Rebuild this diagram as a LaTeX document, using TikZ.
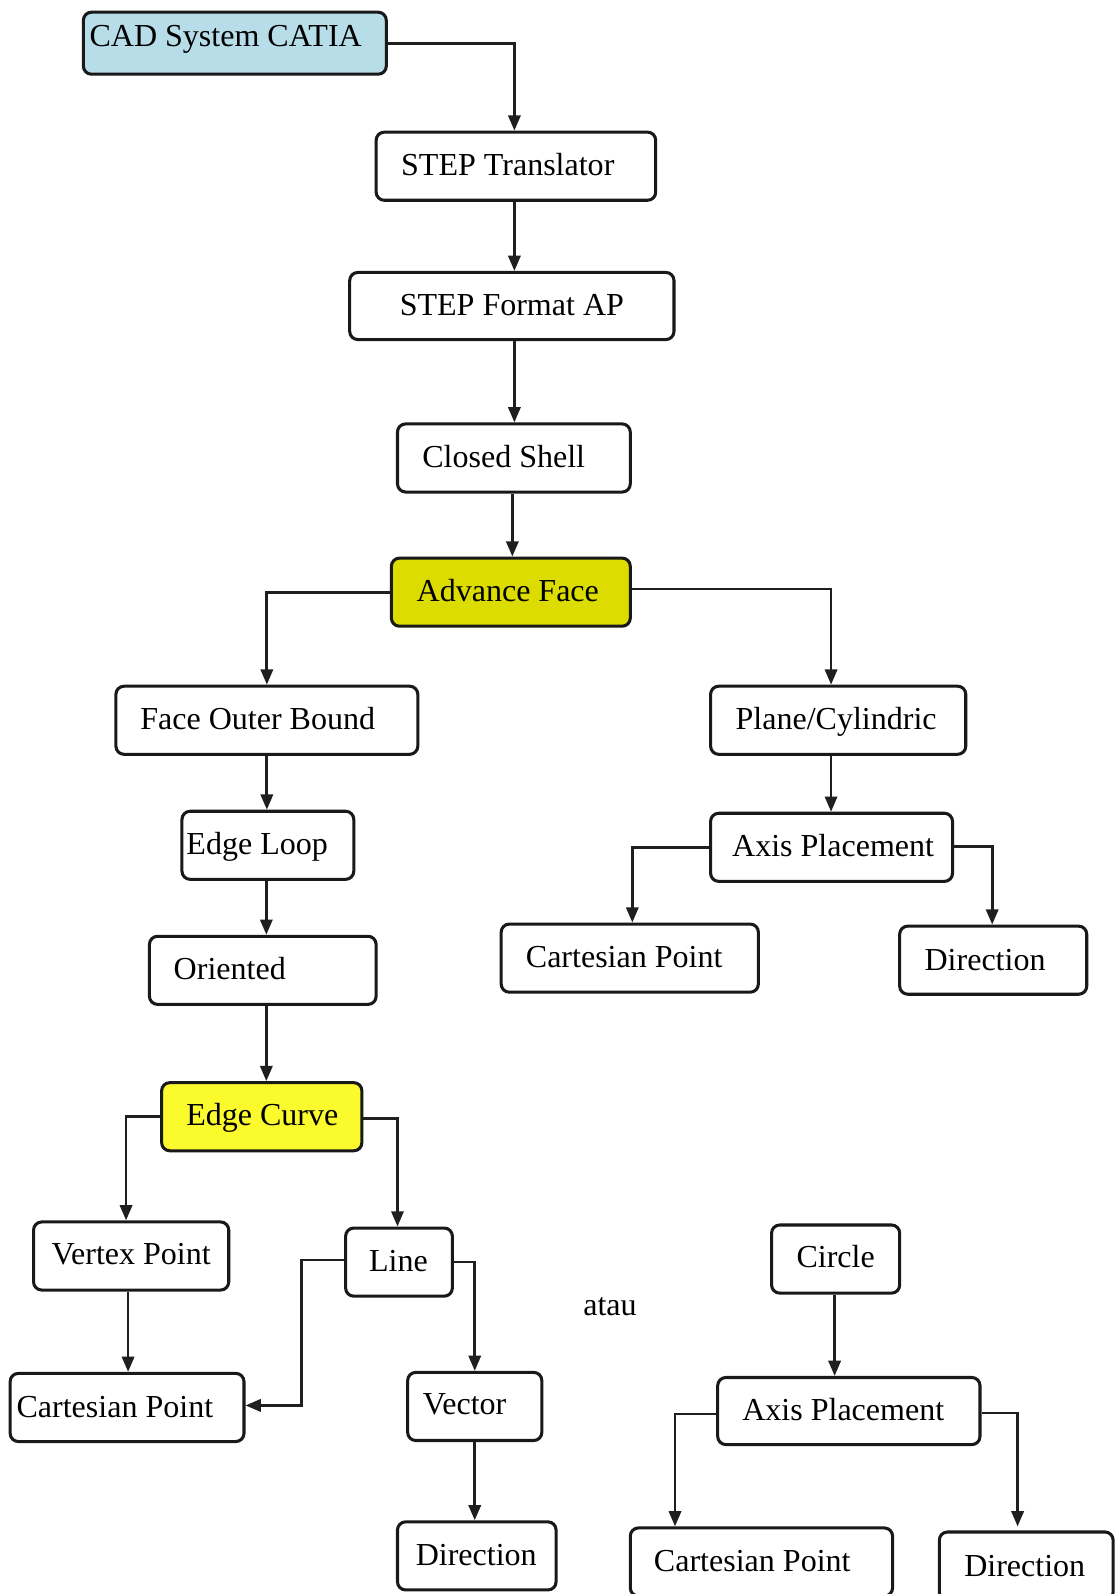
\documentclass[tikz,border=0pt]{standalone}
\usepackage{fontspec}
\setmainfont{Liberation Serif}
\usetikzlibrary{arrows.meta,calc}
\definecolor{cadblue}{RGB}{183,221,232}
\definecolor{advyel}{RGB}{220,220,0}
\definecolor{edgeyel}{RGB}{250,250,45}
\tikzset{
  box/.style={draw=black!90, line width=3pt, rounded corners=8pt, inner sep=0pt, fill=white},
  txt/.style={inner sep=0pt, font=\fontsize{31.5}{36}\selectfont, text height=22pt, text depth=6pt},
  arr/.style={draw=black!88, line width=2.7pt, -{Triangle[length=15pt,width=12pt]}}
}
\begin{document}
\begin{tikzpicture}[x=1pt,y=-1pt]
\useasboundingbox (0,0) rectangle (1097,1568);
\fill[white] (0,0) rectangle (1097,1568);
% boxes
\node[box, fill=cadblue, minimum width=298pt, minimum height=61pt] (cad) at (231,42.5) {};
\node[box, minimum width=275pt, minimum height=67pt] (trans) at (507.5,163.5) {};
\node[box, minimum width=319pt, minimum height=66pt] (fmt) at (503.5,301) {};
\node[box, minimum width=229pt, minimum height=67pt] (shell) at (505.5,450.5) {};
\node[box, fill=advyel, minimum width=235pt, minimum height=67pt] (adv) at (502.5,582.5) {};
\node[box, minimum width=297pt, minimum height=67pt] (fob) at (262.5,708.5) {};
\node[box, minimum width=251pt, minimum height=67pt] (plane) at (824.5,708.5) {};
\node[box, minimum width=169pt, minimum height=67pt] (loop) at (263.5,831.5) {};
\node[box, minimum width=238pt, minimum height=67pt] (axisA) at (818,833.5) {};
\node[box, minimum width=223pt, minimum height=67pt] (orient) at (258.5,954.5) {};
\node[box, minimum width=253pt, minimum height=67pt] (cpA) at (619.5,942.5) {};
\node[box, minimum width=184pt, minimum height=67pt] (dirA) at (977,944.5) {};
\node[box, fill=edgeyel, minimum width=197pt, minimum height=67pt] (ecurve) at (257.5,1098.5) {};
\node[box, minimum width=192pt, minimum height=67pt] (vertex) at (129,1235.5) {};
\node[box, minimum width=105pt, minimum height=67pt] (line) at (392.5,1241.5) {};
\node[box, minimum width=126pt, minimum height=67pt] (circle) at (822,1238.5) {};
\node[box, minimum width=230pt, minimum height=67pt] (cpB) at (125,1384.5) {};
\node[box, minimum width=132pt, minimum height=67pt] (vector) at (467,1383.5) {};
\node[box, minimum width=258pt, minimum height=66pt] (axisB) at (835,1388) {};
\node[box, minimum width=156pt, minimum height=67pt] (dirB) at (469,1530.5) {};
\node[box, minimum width=258pt, minimum height=67pt] (cpC) at (749,1536.5) {};
\node[box, minimum width=171pt, minimum height=67pt] (dirC) at (1009.5,1540.5) {};
% texts
\node[txt] (cadT) at (222,38) {CAD System CATIA};
\node[txt] (transT) at (499.5,165) {STEP Translator};
\node[txt] (fmtT) at (503.5,302) {STEP Format AP};
\node[txt] (shellT) at (495.5,452) {Closed Shell};
\node[txt] (advT) at (499.5,584) {Advance Face};
\node[txt] (fobT) at (253.5,710) {Face Outer Bound};
\node[txt] (planeT) at (822.5,710) {Plane/Cylindric};
\node[txt] (loopT) at (253,833) {Edge Loop};
\node[txt] (axisAT) at (819.5,835) {Axis Placement};
\node[txt] (orientT) at (226,956) {Oriented};
\node[txt] (cpAT) at (614,944) {Cartesian Point};
\node[txt] (dirAT) at (969,947) {Direction};
\node[txt] (ecurveT) at (258,1099) {Edge Curve};
\node[txt] (vertexT) at (129,1236) {Vertex Point};
\node[txt] (lineT) at (392,1243) {Line};
\node[txt] (circleT) at (822,1239) {Circle};
\node[txt] (atau) at (600,1286) {atau};
\node[txt] (cpBT) at (113,1386) {Cartesian Point};
\node[txt] (vectorT) at (457,1383) {Vector};
\node[txt] (axisBT) at (829.5,1389) {Axis Placement};
\node[txt] (dirBT) at (468.5,1532) {Direction};
\node[txt] (cpCT) at (740,1538) {Cartesian Point};
\node[txt] (dirCT) at (1008,1543) {Direction};
% connectors
\draw[arr] (cad.east) -| ([xshift=-1.5pt]trans.north);
\draw[arr] ([xshift=-1.5pt]trans.south) -- ([xshift=-1.5pt]trans.south |- fmt.north);
\draw[arr] ([xshift=2.5pt]fmt.south) -- ([xshift=2.5pt]fmt.south |- shell.north);
\draw[arr] ([xshift=-1.5pt]shell.south) -- ([xshift=-1.5pt]shell.south |- adv.north);
\draw[arr] (adv.west) -| (fob.north);
\draw[arr] ([yshift=3pt]adv.east) -| ([xshift=-7pt]plane.north);
\draw[arr] (fob.south) -- (fob.south |- loop.north);
\draw[arr] ([xshift=-1.5pt]loop.south) -- ([xshift=-1.5pt]loop.south |- orient.north);
\draw[arr] ([xshift=3.5pt]orient.south) -- ([xshift=3.5pt]orient.south |- ecurve.north);
\draw[arr] ([xshift=-7pt]plane.south) -- ([xshift=-7pt]plane.south |- axisA.north);
\draw[arr] (axisA.west) -| ([xshift=2.5pt]cpA.north);
\draw[arr] ([yshift=1pt]axisA.east) -| ([xshift=-1pt]dirA.north);
\draw[arr] (ecurve.west) -| ([xshift=-5pt]vertex.north);
\draw[arr] ([yshift=-1.5pt]ecurve.east) -| ([xshift=-1.5pt]line.north);
\draw[arr] ([xshift=-3pt]vertex.south) -- ([xshift=-3pt]vertex.south |- cpB.north);
\draw[arr] ([yshift=2pt]line.west) -| ([xshift=55pt,yshift=2pt]cpB.east) -- ([yshift=2pt]cpB.east);
\draw[arr] (line.east) -| (vector.north);
\draw[arr] (vector.south) -- (vector.south |- dirB.north);
\draw[arr] ([xshift=-1pt]circle.south) -- ([xshift=-1pt]circle.south |- axisB.north);
\draw[arr] ([yshift=-3pt]axisB.west) -| ([xshift=-85pt]cpC.north);
\draw[arr] ([yshift=-2pt]axisB.east) -| ([xshift=-8.5pt,yshift=4pt]dirC.north);
\end{tikzpicture}
\end{document}
